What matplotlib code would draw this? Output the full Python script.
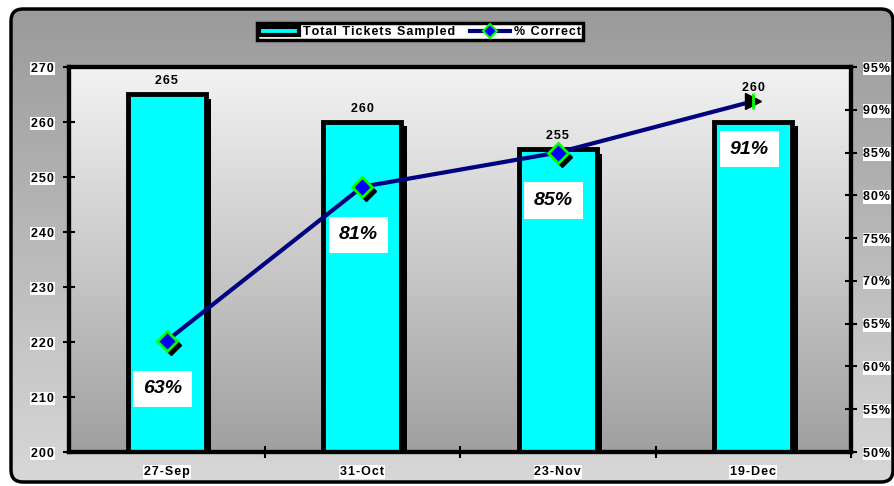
import numpy as np
import matplotlib
matplotlib.use("Agg")
import matplotlib.pyplot as plt
import matplotlib.patheffects as pe
import matplotlib.transforms as mtransforms
from matplotlib.patches import FancyBboxPatch, Patch
from matplotlib.lines import Line2D
from matplotlib.colors import LinearSegmentedColormap

# Chart data
dates = ["27-Sep", "31-Oct", "23-Nov", "19-Dec"]
tickets = [265, 260, 255, 260]
pct_correct = [0.63, 0.81, 0.85, 0.91]
pct_labels = ["63%", "81%", "85%", "91%"]

plt.rcParams["font.family"] = ["Liberation Sans", "DejaVu Sans"]
plt.rcParams["font.weight"] = "bold"


def spaced(s):
    # wide letter spacing like the original chart
    return "\u200a".join(s)


W, H = 895, 486
fig = plt.figure(figsize=(W / 100, H / 100), dpi=100)
fig.patch.set_facecolor("white")

# Background axes in pixel coordinates for the rounded outer frame
bg = fig.add_axes([0, 0, 1, 1])
bg.set_xlim(0, W)
bg.set_ylim(H, 0)
bg.set_axis_off()
frame = FancyBboxPatch((11, 9), 882, 473, boxstyle="round,pad=0,rounding_size=12",
                       facecolor="none", edgecolor="black", linewidth=2.5, zorder=3)
bg.add_patch(frame)
grad = np.linspace(0, 1, 256).reshape(-1, 1)
outer_cmap = LinearSegmentedColormap.from_list("outer", ["#999999", "#d8d8d8"])
img = bg.imshow(grad, cmap=outer_cmap, extent=(0, W, H, 0), aspect="auto", zorder=1)
clip = FancyBboxPatch((11, 9), 882, 473, boxstyle="round,pad=0,rounding_size=12",
                      facecolor="none", edgecolor="none", transform=bg.transData)
img.set_clip_path(clip)

# Main plot area
ax = fig.add_axes([69 / W, 1 - 452 / H, (851 - 69) / W, (452 - 67) / H])
ax.set_xlim(-0.5, 3.5)
ax.set_ylim(200, 270)
inner_cmap = LinearSegmentedColormap.from_list("inner", ["#a0a0a0", "#f3f3f3"])
ax.imshow(grad, cmap=inner_cmap, extent=(0, 1, 0, 1), transform=ax.transAxes,
          aspect="auto", zorder=0, origin="lower")

x = np.arange(len(dates))
bars = ax.bar(x, np.array(tickets) - 200, bottom=200, width=0.4, color="#00ffff",
              edgecolor="black", linewidth=3.5, zorder=2)
for b in bars:
    b.set_path_effects([pe.SimplePatchShadow(offset=(4, -3), shadow_rgbFace="black", alpha=1),
                        pe.Normal()])

# bar value labels sit above the bar, or above the line marker if it is higher
marker_left = 200 + (np.array(pct_correct) - 0.50) / 0.45 * 70
for xi, v, m in zip(x, tickets, marker_left):
    ax.text(xi, max(v, m) + 1.3, spaced(str(v)), ha="center", va="bottom", fontsize=9,
            fontweight="bold", zorder=5)

for s in ax.spines.values():
    s.set_linewidth(3)
ax.set_yticks(np.arange(200, 271, 10))
ax.set_yticklabels([spaced(str(t)) for t in range(200, 271, 10)])
ax.set_xticks(x)
ax.set_xticklabels([spaced(d) for d in dates])
ax.set_xticks(x + 0.5, minor=True)
ax.tick_params(axis="x", which="major", length=0, pad=10, labelsize=9)
ax.tick_params(axis="x", which="minor", direction="inout", length=8, width=1.5)
ax.tick_params(axis="y", direction="inout", length=8, width=1.5, pad=7, labelsize=9)

# Percent line on secondary axis
ax2 = ax.twinx()
ax2.set_ylim(0.50, 0.95)
pticks = np.arange(0.50, 0.951, 0.05)
ax2.set_yticks(pticks)
ax2.set_yticklabels([spaced(f"{int(round(t * 100))}%") for t in pticks])
ax2.tick_params(axis="y", direction="inout", length=8, width=1.5, pad=5, labelsize=9)
for s in ax2.spines.values():
    s.set_linewidth(3)
ax2.plot(x, pct_correct, color="#000080", linewidth=3, zorder=3)
shadow_tr = mtransforms.offset_copy(ax2.transData, fig=fig, x=4, y=-4, units="dots")
ax2.plot(x[:-1], pct_correct[:-1], linestyle="none", marker="D", markersize=10,
         color="black", transform=shadow_tr, zorder=3.5)
ax2.plot(x[:-1], pct_correct[:-1], linestyle="none", marker="D", markersize=10,
         markerfacecolor="#0000ff", markeredgecolor="#00ff00", markeredgewidth=2, zorder=4)
ax2.plot(x[-1:], pct_correct[-1:], linestyle="none", marker=">", markersize=12,
         color="black", zorder=4)
ax2.plot(x[-1:], pct_correct[-1:], linestyle="none", marker="|", markersize=12,
         markeredgecolor="#00ff00", markeredgewidth=2, zorder=5)

for xi, p, lbl in zip(x, pct_correct, pct_labels):
    ax2.annotate(lbl, (xi, p), xytext=(-4, -48), textcoords="offset pixels",
                 ha="center", va="center", fontsize=14, fontstyle="italic", fontweight="bold",
                 bbox=dict(boxstyle="square,pad=0.5", facecolor="white", edgecolor="none"),
                 zorder=6)

for lab in ax.get_yticklabels() + ax.get_xticklabels() + ax2.get_yticklabels():
    lab.set_bbox(dict(facecolor="white", edgecolor="none", pad=0.6))

# Legend
handles = [Patch(facecolor="#00ffff", edgecolor="black", linewidth=3),
           Line2D([], [], color="#000080", linewidth=3, marker="D", markersize=7,
                  markerfacecolor="#0000ff", markeredgecolor="#00ff00", markeredgewidth=1.5)]
leg = fig.legend(handles, [spaced("Total Tickets Sampled"), spaced("% Correct")], ncol=2,
                 loc="center", bbox_to_anchor=(420 / W, 1 - 32 / H), fontsize=9,
                 fancybox=False, framealpha=1, edgecolor="black", handlelength=3.2,
                 handleheight=0.6, handletextpad=0.3, columnspacing=1.2,
                 borderpad=0.2, borderaxespad=0)
leg.get_frame().set_linewidth(2.5)

fig.savefig("out.png", dpi=100)
